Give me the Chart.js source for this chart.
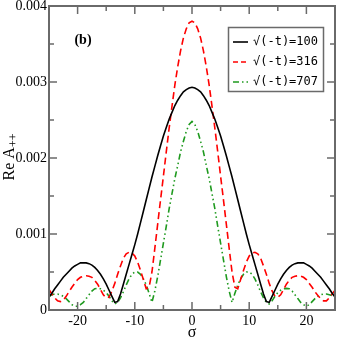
<!DOCTYPE html>
<html><head><meta charset="utf-8">
<script src="https://cdn.jsdelivr.net/npm/chart.js@4"></script>
<style>html,body{margin:0;padding:0;background:#fff}#wrap{width:338px;height:338px;position:relative}</style>
</head><body><div id="wrap"><canvas id="c"></canvas></div>
<script>
const sigma = [-25,-24.5,-24,-23.5,-23,-22.5,-22,-21.5,-21,-20.5,-20,-19.5,-19,-18.5,-18,-17.5,-17,-16.5,-16,-15.5,-15,-14.5,-14,-13.5,-13,-12.5,-12,-11.5,-11,-10.5,-10,-9.5,-9,-8.5,-8,-7.5,-7,-6.5,-6,-5.5,-5,-4.5,-4,-3.5,-3,-2.5,-2,-1.5,-1,-0.5,0,0.5,1,1.5,2,2.5,3,3.5,4,4.5,5,5.5,6,6.5,7,7.5,8,8.5,9,9.5,10,10.5,11,11.5,12,12.5,13,13.5,14,14.5,15,15.5,16,16.5,17,17.5,18,18.5,19,19.5,20,20.5,21,21.5,22,22.5,23,23.5,24,24.5,25];

const seriesLabels = ['\u221A(-t)=100', '\u221A(-t)=316', '\u221A(-t)=707'];

const reA_100 = [0.00017,0.00022,0.00028,0.00033,0.00038,0.00043,0.00047,0.00051,0.00055,0.00058,0.0006,0.00062,0.00062,0.00062,0.00061,0.00059,0.00056,0.00052,0.00047,0.00041,0.00034,0.00026,0.00018,0.0001,0.00011,0.00021,0.00034,0.00047,0.0006,0.00073,0.00086,0.001,0.00115,0.0013,0.00145,0.0016,0.00175,0.00189,0.00203,0.00216,0.00229,0.0024,0.00251,0.0026,0.00269,0.00276,0.00282,0.00287,0.0029,0.00292,
0.00293,
0.00292,0.0029,0.00287,0.00282,0.00276,0.00269,0.0026,0.00251,0.0024,0.00229,0.00216,0.00203,0.00189,0.00175,0.0016,0.00145,0.0013,0.00115,0.001,0.00086,0.00073,0.0006,0.00047,0.00034,0.00021,0.00011,0.0001,0.00018,0.00026,0.00034,0.00041,0.00047,0.00052,0.00056,0.00059,0.00061,0.00062,0.00062,0.00062,0.0006,0.00058,0.00055,0.00051,0.00047,0.00043,0.00038,0.00033,0.00028,0.00022,0.00017];

const reA_316 = [0.00027,0.00021,0.00016,0.00012,0.00011,0.00013,0.00018,0.00024,0.0003,0.00035,0.0004,0.00043,0.000445,0.00045,0.000445,0.00043,0.00039,0.00034,0.00027,0.0002,0.00016,0.00017,0.00025,0.00035,0.00047,0.00058,0.00068,0.00074,0.00076,0.00075,0.00071,0.00063,0.00052,0.0004,0.00028,0.0003,0.0005,0.00081,0.00113,0.00145,0.00176,0.00208,0.00239,0.00268,0.00296,0.0032,0.00341,0.00358,0.0037,0.00378,
0.0038,
0.00378,0.0037,0.00358,0.00341,0.0032,0.00296,0.00268,0.00239,0.00208,0.00176,0.00145,0.00113,0.00081,0.0005,0.0003,0.00028,0.0004,0.00052,0.00063,0.00071,0.00075,0.00076,0.00074,0.00068,0.00058,0.00047,0.00035,0.00025,0.00018,0.00017,0.0002,0.00027,0.00034,0.00039,0.00043,0.000445,0.00045,0.000445,0.00043,0.0004,0.00035,0.0003,0.00024,0.00019,0.00015,0.00012,0.00012,0.00016,0.00021,0.00026];

const reA_707 = [0.00018,0.0002,0.00021,0.00021,0.0002,0.00018,0.00015,0.00011,0.00007,0.00005,0.00005,0.00007,0.0001,0.00015,0.0002,0.00025,0.00028,0.000285,0.00028,0.00026,0.00023,0.00018,0.00012,0.00008,0.0001,0.00016,0.00024,0.00033,0.00041,0.00047,0.0005,0.0005,0.00047,0.00041,0.00033,0.00022,0.0001,0.00025,0.00044,0.00066,0.00088,0.0011,0.00133,0.00153,0.00173,0.0019,0.00208,0.00222,0.00235,0.00244,
0.00248,
0.00244,0.00235,0.00222,0.00208,0.0019,0.00173,0.00153,0.00133,0.0011,0.00088,0.00066,0.00044,0.00025,0.0001,0.00022,0.00033,0.00041,0.00047,0.0005,0.0005,0.00047,0.00041,0.00033,0.00024,0.00016,0.0001,0.00008,0.00012,0.00018,0.00023,0.00026,0.00028,0.000285,0.00028,0.00025,0.0002,0.00015,0.0001,0.00007,0.00005,0.00007,0.00011,0.00015,0.00018,0.0002,0.00021,0.00021,0.0002,0.00019,0.00018];

const xMajorTicks = [-20,-10,0,10,20];
const xMinorTicks = [-15,-5,5,15];
const yMajorTicks = [0,0.001,0.002,0.003,0.004];
const yTickLabels = ['0','0.001','0.002','0.003','0.004'];
const yMinorTicks = [0.0005,0.0015,0.0025,0.0035];

const colors = ['#000000','#ff0000','#1f9a1f'];
const dashes = [[], [7,4], [6,3,1.5,3,1.5,3]];

function pts(v){ return sigma.map((s,i)=>({x:s,y:v[i]})); }

const frameColor = '#6a6a6a';

const decor = {
  id:'decor',
  afterDatasetsDraw(chart){
    const ctx = chart.ctx, a = chart.chartArea;
    const xs = chart.scales.x, ys = chart.scales.y;
    ctx.save();
    ctx.strokeStyle = frameColor;
    ctx.lineWidth = 1.5;
    ctx.setLineDash([]);
    ctx.beginPath();
    xMajorTicks.forEach(v=>{const p=xs.getPixelForValue(v);
      ctx.moveTo(p,a.bottom);ctx.lineTo(p,a.bottom-8);
      ctx.moveTo(p,a.top);ctx.lineTo(p,a.top+8);});
    xMinorTicks.forEach(v=>{const p=xs.getPixelForValue(v);
      ctx.moveTo(p,a.bottom);ctx.lineTo(p,a.bottom-5);
      ctx.moveTo(p,a.top);ctx.lineTo(p,a.top+5);});
    yMajorTicks.forEach(v=>{const p=ys.getPixelForValue(v);
      ctx.moveTo(a.left,p);ctx.lineTo(a.left+8,p);
      ctx.moveTo(a.right,p);ctx.lineTo(a.right-8,p);});
    yMinorTicks.forEach(v=>{const p=ys.getPixelForValue(v);
      ctx.moveTo(a.left,p);ctx.lineTo(a.left+5,p);
      ctx.moveTo(a.right,p);ctx.lineTo(a.right-5,p);});
    ctx.stroke();
    ctx.lineWidth = 2;
    ctx.strokeRect(a.left, a.top, a.right-a.left, a.bottom-a.top);

    // (b) label
    ctx.fillStyle = '#000';
    ctx.font = 'bold 14px "Liberation Serif"';
    ctx.textAlign = 'center'; ctx.textBaseline = 'middle';
    ctx.fillText('(b)', 83, 40);

    // legend
    const lx = 228.5, ly = 27.5, lw = 95, lh = 64;
    ctx.fillStyle = '#fff';
    ctx.fillRect(lx, ly, lw, lh);
    ctx.strokeStyle = frameColor; ctx.lineWidth = 1.5;
    ctx.strokeRect(lx, ly, lw, lh);
    ctx.font = '12px "DejaVu Sans Mono"';
    ctx.textAlign = 'left'; ctx.textBaseline = 'middle';
    seriesLabels.forEach((t,i)=>{
      const yy = 42 + i*20;
      ctx.strokeStyle = colors[i]; ctx.lineWidth = 1.6;
      ctx.setLineDash(i===1 ? [5,3] : dashes[i]);
      ctx.beginPath(); ctx.moveTo(233, yy); ctx.lineTo(248, yy); ctx.stroke();
      ctx.setLineDash([]);
      ctx.fillStyle = '#000';
      ctx.fillText(t, 253, yy);
    });

    // axis titles
    ctx.font = '16px "Liberation Serif"';
    ctx.textAlign = 'center'; ctx.textBaseline = 'middle';
    ctx.fillText('\u03C3', (a.left+a.right)/2, 333);

    ctx.translate(10, 157);
    ctx.rotate(-Math.PI/2);
    ctx.textAlign = 'left'; ctx.textBaseline = 'middle';
    const main = 'Re A';
    ctx.font = '16px "Liberation Serif"';
    const wMain = ctx.measureText(main).width;
    ctx.font = '12px "Liberation Serif"';
    const sub = '++';
    const wSub = ctx.measureText(sub).width;
    const x0 = -(wMain + wSub)/2;
    ctx.font = '16px "Liberation Serif"';
    ctx.fillText(main, x0, 0);
    ctx.font = '12px "Liberation Serif"';
    ctx.fillText(sub, x0 + wMain, 4);
    ctx.restore();
  }
};

new Chart(document.getElementById('c'), {
  type: 'scatter',
  data: {
    datasets: [reA_100, reA_316, reA_707].map((v,i)=>({
      label: seriesLabels[i],
      data: pts(v),
      showLine: true,
      borderColor: colors[i],
      borderWidth: 1.6,
      borderDash: dashes[i],
      pointRadius: 0,
      tension: 0,
      fill: false
    }))
  },
  options: {
    responsive: true,
    maintainAspectRatio: false,
    animation: false,
    devicePixelRatio: 1,
    layout: { padding: { left: 0, right: 3, top: 6, bottom: 0 } },
    plugins: { legend: { display: false }, tooltip: { enabled: false } },
    scales: {
      x: {
        type: 'linear', min: -25, max: 25,
        grid: { display: false, drawTicks: false },
        border: { display: false },
        afterBuildTicks: s => { s.ticks = xMajorTicks.map(v=>({value:v})); },
        ticks: { color: '#000', padding: 3, maxRotation: 0,
          font: { family: '"Liberation Serif"', size: 14 },
          callback: v => String(v) },
        afterFit: s => { s.height = 28; s.paddingLeft = 0; s.paddingRight = 0; }
      },
      y: {
        type: 'linear', min: 0, max: 0.004,
        grid: { display: false, drawTicks: false },
        border: { display: false },
        afterBuildTicks: s => { s.ticks = yMajorTicks.map(v=>({value:v})); },
        ticks: { color: '#000', padding: 2,
          font: { family: '"Liberation Serif"', size: 14 },
          callback: (v) => { const k = yMajorTicks.findIndex(t=>Math.abs(t-v)<1e-9); return k>=0 ? yTickLabels[k] : ''; } },
        afterFit: s => { s.width = 49; s.paddingTop = 0; s.paddingBottom = 0; }
      }
    }
  },
  plugins: [decor]
});
</script>
</body></html>
